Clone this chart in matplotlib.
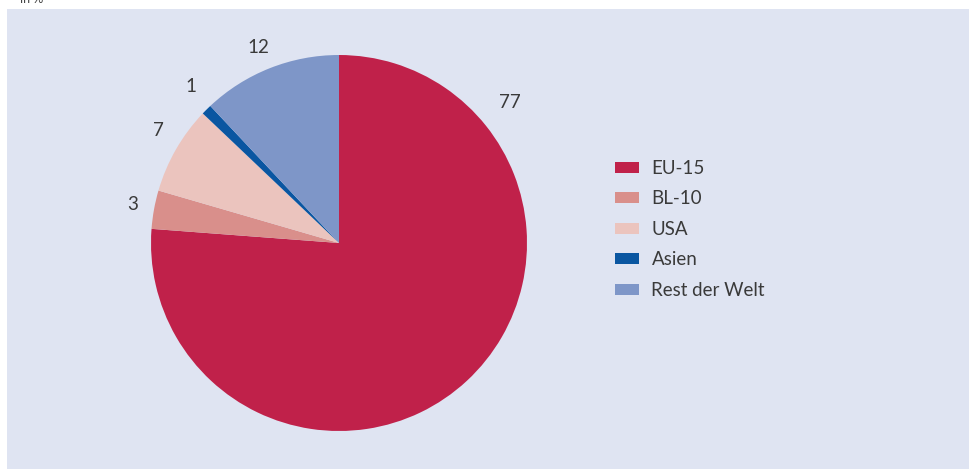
import matplotlib
matplotlib.use('Agg')
import matplotlib.pyplot as plt
from matplotlib.patches import Patch

categories = ['EU-15', 'BL-10', 'USA', 'Asien', 'Rest der Welt']
shares = [76.2, 3.3, 7.6, 0.9, 12.0]          # wedge sizes as drawn
share_labels = ['77', '3', '7', '1', '12']    # printed (rounded) values
colors = ['#C0214A', '#D98F8B', '#EBC4BE', '#0A56A1', '#7E96C8']
# label anchors (pie radius units)
label_xy = [(0.91, 0.745), (-1.10, 0.207), (-0.96, 0.596), (-0.79, 0.835), (-0.43, 1.04)]

plt.rcParams['font.family'] = ['Lato', 'DejaVu Sans']
W, H = 970, 469
fig = plt.figure(figsize=(W / 100, H / 100), dpi=100, facecolor='white')

# light blue panel
bg = fig.add_axes([7 / W, 0, 1 - 7 / W, (H - 9) / H])
bg.set_facecolor('#DFE4F2')
bg.set_xticks([])
bg.set_yticks([])
for s in bg.spines.values():
    s.set_visible(False)

fig.text(20 / W, 1 - 3 / H, 'in %', fontsize=9, color='#444444', va='baseline')

cx, cy, R = 339, 243, 188
ax = fig.add_axes([(cx - R) / W, (H - cy - R) / H, 2 * R / W, 2 * R / H])
ax.pie(shares, colors=colors, startangle=90, counterclock=False,
       radius=1, wedgeprops=dict(linewidth=0))
ax.set_xlim(-1, 1)
ax.set_ylim(-1, 1)
ax.set_aspect('equal')
ax.axis('off')

for lab, (x, y) in zip(share_labels, label_xy):
    ax.text(x, y, lab, fontsize=13.5, color='#3A3A3A',
            ha='center', va='center', clip_on=False)

handles = [Patch(facecolor=c, edgecolor='none', label=l) for c, l in zip(colors, categories)]
fig.legend(handles=handles, loc='upper left', bbox_to_anchor=(598 / W, 1 - 143 / H),
           frameon=False, fontsize=13.5, labelcolor='#3A3A3A',
           handlelength=1.3, handleheight=0.55, handletextpad=0.65,
           labelspacing=0.72)

fig.savefig('out.png', dpi=100)
